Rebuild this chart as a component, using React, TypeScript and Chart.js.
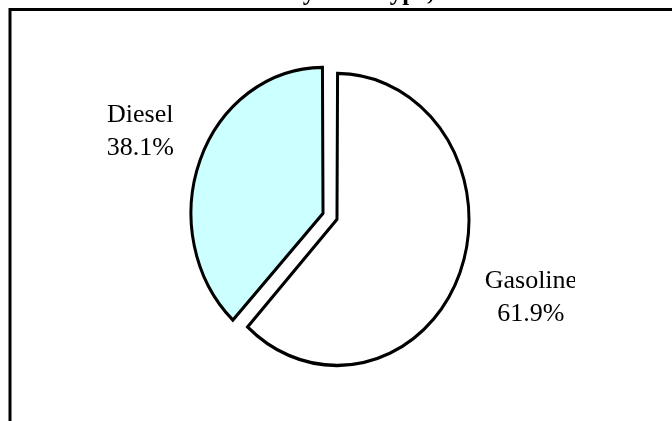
import React, { useEffect, useRef } from "react";
import { Chart, registerables } from "chart.js";

Chart.register(...registerables);

const categories = ["Diesel", "Gasoline"];
const shares = [38.1, 61.9];
const shareLabels = ["38.1%", "61.9%"];
const titleText = "Fuel Use by Fuel Type, 1997";

const W = 672;
const H = 421;
const STRETCH = 1.106;
const SERIF = '"Liberation Serif", "Times New Roman", serif';

const ellipsePlugin = {
  id: "ellipse",
  beforeDatasetsDraw(chart: any) {
    const arc = chart.getDatasetMeta(0).data[0];
    const ctx = chart.ctx;
    ctx.save();
    ctx.translate(arc.x, arc.y);
    ctx.scale(1, STRETCH);
    ctx.translate(-arc.x, -arc.y);
  },
  afterDatasetsDraw(chart: any) {
    chart.ctx.restore();
  },
};

const framePlugin = {
  id: "frame",
  beforeDraw(chart: any) {
    const ctx = chart.ctx;
    ctx.save();
    ctx.fillStyle = "#ffffff";
    ctx.fillRect(0, 0, chart.width, chart.height);
    ctx.strokeStyle = "#000000";
    ctx.lineWidth = 3;
    ctx.strokeRect(10, 9.5, chart.width + 50, chart.height + 50);
    ctx.fillStyle = "#000000";
    ctx.font = `bold 25px ${SERIF}`;
    ctx.textAlign = "center";
    ctx.textBaseline = "alphabetic";
    ctx.fillText(titleText, 340, 0);
    ctx.restore();
  },
};

const nudges = [
  [-20, -21],
  [24, -5],
];
const labelClipRight = [W, 575];

const labelPlugin = {
  id: "sliceLabels",
  afterDraw(chart: any) {
    const ctx = chart.ctx;
    const meta = chart.getDatasetMeta(0);
    meta.data.forEach((arc: any, i: number) => {
      const p = arc.getProps(["x", "y", "startAngle", "endAngle", "outerRadius"], true);
      const mid = (p.startAngle + p.endAngle) / 2;
      const d = p.outerRadius * 1.45;
      const ax = p.x + Math.cos(mid) * d + nudges[i][0];
      const ay = p.y + Math.sin(mid) * d * STRETCH + nudges[i][1];
      ctx.save();
      ctx.beginPath();
      ctx.rect(0, 0, labelClipRight[i], chart.height);
      ctx.clip();
      ctx.fillStyle = "#000000";
      ctx.font = `26px ${SERIF}`;
      ctx.textAlign = "center";
      ctx.textBaseline = "alphabetic";
      ctx.fillText(categories[i], ax, ay);
      ctx.fillText(shareLabels[i], ax, ay + 33);
      ctx.restore();
    });
  },
};

export default function App() {
  const ref = useRef<HTMLCanvasElement | null>(null);

  useEffect(() => {
    document.body.style.margin = "0";
    const canvas = ref.current;
    if (!canvas) return;
    const total = shares.reduce((a, b) => a + b, 0);
    const chart = new Chart(canvas, {
      type: "pie",
      data: {
        labels: categories,
        datasets: [
          {
            data: shares,
            backgroundColor: ["#CCFFFF", "#FFFFFF"],
            borderColor: "#000000",
            borderWidth: 3,
            borderJoinStyle: "miter",
            offset: [45.45, 14.55],
          } as any,
        ],
      },
      options: {
        responsive: false,
        devicePixelRatio: 1,
        animation: false,
        rotation: -(shares[0] / total) * 360,
        radius: 128.4,
        layout: { padding: { left: 0, right: 4.8, top: 15, bottom: 0 } },
        plugins: {
          legend: { display: false },
          title: { display: false },
          tooltip: { enabled: false },
        },
        events: [],
      } as any,
      plugins: [framePlugin, ellipsePlugin, labelPlugin],
    });
    return () => chart.destroy();
  }, []);

  return (
    <div style={{ width: W, height: H, overflow: "hidden" }}>
      <canvas ref={ref} width={W} height={H} style={{ display: "block" }} />
    </div>
  );
}
